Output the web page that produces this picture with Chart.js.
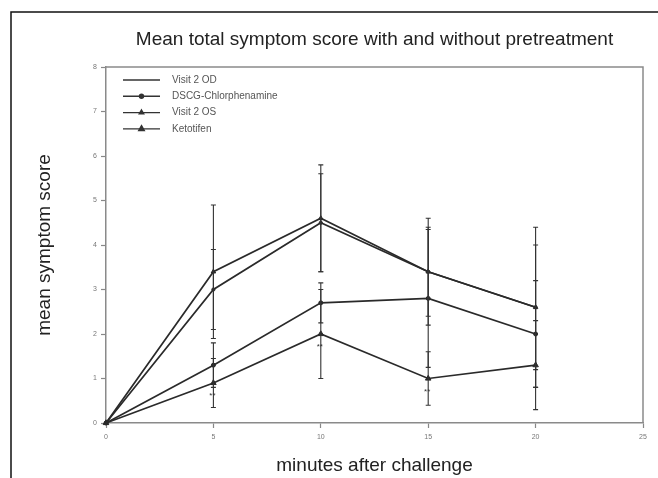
<!DOCTYPE html>
<html>
<head>
<meta charset="utf-8">
<script src="https://cdn.jsdelivr.net/npm/chart.js@4.4.0/dist/chart.umd.min.js"></script>
<style>
    body{margin:0;background:#fff;}
    canvas{display:block;}
</style>
</head>
<body>
<canvas id="symptomChart" width="658" height="478"></canvas>
<script>
'use strict';

// values
const minutes = [0, 5, 10, 15, 20];
const seriesNames = ['Visit 2 OD', 'DSCG-Chlorphenamine', 'Visit 2 OS', 'Ketotifen'];

const visit2OD   = [0, 3.0, 4.5, 3.4, 2.6];
const dscg       = [0, 1.3, 2.7, 2.8, 2.0];
const visit2OS   = [0, 3.4, 4.6, 3.4, 2.6];
const ketotifen  = [0, 0.9, 2.0, 1.0, 1.3];

// standard deviations (error bars)
const visit2OD_sd  = [0, 0.9, 1.1, 1.0, 1.4];
const dscg_sd      = [0, 0.5, 0.45, 1.55, 1.2];
const visit2OS_sd  = [0, 1.5, 1.2, 1.2, 1.8];
const ketotifen_sd = [0, 0.55, 1.0, 0.6, 1.0];

// significance marks under the Ketotifen curve
const sigMarks = ['', '**', '**', '**', ''];

const xTicks = [0, 5, 10, 15, 20, 25];
const yTicks = [0, 1, 2, 3, 4, 5, 6, 7, 8];

const FONT = "'Liberation Sans', Arial, sans-serif";

function toPoints(values){
    return minutes.map((m, i) => ({x: m, y: values[i]}));
}

function makeDataset(label, values, sd, style, radius){
    return {
        label: label,
        data: toPoints(values),
        sd: sd,
        borderColor: '#2a2a2a',
        backgroundColor: '#2a2a2a',
        borderWidth: 1.7,
        pointStyle: style,
        pointRadius: radius,
        pointBorderWidth: 1,
        tension: 0,
        fill: false,
        clip: false
    };
}

const datasets = [
    makeDataset(seriesNames[0], visit2OD, visit2OD_sd, 'circle', 1.6),
    makeDataset(seriesNames[1], dscg, dscg_sd, 'circle', 2),
    makeDataset(seriesNames[2], visit2OS, visit2OS_sd, 'triangle', 2.6),
    makeDataset(seriesNames[3], ketotifen, ketotifen_sd, 'triangle', 3.2)
];

// page frame + plot box
const framePlugin = {
    id: 'frame',
    beforeDraw(chart){
        const ctx = chart.ctx;
        ctx.save();
        ctx.strokeStyle = '#111';
        ctx.lineWidth = 1.5;
        ctx.beginPath();
        ctx.moveTo(11, 478);
        ctx.lineTo(11, 12);
        ctx.lineTo(658, 12);
        ctx.stroke();
        ctx.restore();
    },
    afterDraw(chart){
        const {ctx, chartArea} = chart;
        ctx.save();
        ctx.strokeStyle = '#8a8a8a';
        ctx.lineWidth = 1.5;
        ctx.beginPath();
        ctx.moveTo(chartArea.left, chartArea.top);
        ctx.lineTo(chartArea.right, chartArea.top);
        ctx.lineTo(chartArea.right, chartArea.bottom);
        ctx.stroke();
        ctx.restore();
    }
};

// vertical error bars, drawn through the scales
const errorBarPlugin = {
    id: 'errorBars',
    afterDatasetsDraw(chart){
        const ctx = chart.ctx;
        const xs = chart.scales.x, ys = chart.scales.y;
        ctx.save();
        ctx.strokeStyle = '#333';
        ctx.lineWidth = 1.1;
        chart.data.datasets.forEach(ds => {
            ds.data.forEach((p, i) => {
                const sd = ds.sd[i];
                if(!sd) return;
                const px = xs.getPixelForValue(p.x);
                const top = ys.getPixelForValue(p.y + sd);
                const bot = ys.getPixelForValue(Math.max(0, p.y - sd));
                ctx.beginPath();
                ctx.moveTo(px, top); ctx.lineTo(px, bot);
                ctx.moveTo(px - 2.5, top); ctx.lineTo(px + 2.5, top);
                ctx.moveTo(px - 2.5, bot); ctx.lineTo(px + 2.5, bot);
                ctx.stroke();
            });
        });
        // ** marks under the lowest curve
        ctx.fillStyle = '#333';
        ctx.font = '8px ' + FONT;
        ctx.textAlign = 'center';
        ctx.textBaseline = 'middle';
        sigMarks.forEach((m, i) => {
            if(!m) return;
            const px = xs.getPixelForValue(minutes[i]);
            const py = ys.getPixelForValue(ketotifen[i]);
            ctx.fillText(m, px - 1, py + 13);
        });
        ctx.restore();
    }
};

// legend inside the plot, top left
const insideLegendPlugin = {
    id: 'insideLegend',
    afterDraw(chart){
        const {ctx, chartArea} = chart;
        ctx.save();
        ctx.font = '10px ' + FONT;
        ctx.textBaseline = 'middle';
        chart.data.datasets.forEach((ds, i) => {
            const y = chartArea.top + 13 + i * 16.3;
            const x0 = chartArea.left + 17, x1 = chartArea.left + 54;
            ctx.strokeStyle = '#333';
            ctx.lineWidth = 1.4;
            ctx.beginPath();
            ctx.moveTo(x0, y); ctx.lineTo(x1, y);
            ctx.stroke();
            if(i > 0){
                Chart.helpers.drawPoint(ctx, {
                    pointStyle: ds.pointStyle,
                    radius: ds.pointRadius,
                    borderWidth: 1
                }, (x0 + x1) / 2, y);
                ctx.fillStyle = '#333';
                ctx.fill();
            }
            ctx.fillStyle = '#555';
            ctx.fillText(ds.label, chartArea.left + 66, y);
        });
        ctx.restore();
    }
};

const ctx = document.getElementById('symptomChart').getContext('2d');
window.myChart = new Chart(ctx, {
    type: 'line',
    data: { datasets: datasets },
    options: {
        responsive: false,
        animation: false,
        layout: { padding: { left: 0, right: 15, top: 0, bottom: 0 } },
        plugins: {
            legend: { display: false },
            tooltip: { enabled: false },
            title: {
                display: true,
                text: 'Mean total symptom score with and without pretreatment',
                fullSize: false,
                color: '#222',
                font: { family: FONT, size: 19, weight: 'normal' },
                padding: { top: 28.6, bottom: 15.6 }
            }
        },
        scales: {
            x: {
                type: 'linear',
                min: 0, max: 25,
                afterFit(s){ s.height = 55; },
                afterBuildTicks(s){ s.ticks = xTicks.map(v => ({value: v})); },
                ticks: { color: '#777', font: { family: FONT, size: 7 }, padding: 5 },
                grid: { drawOnChartArea: false, drawTicks: true, tickLength: 5, tickColor: '#888', tickWidth: 1.2 },
                border: { color: '#8a8a8a', width: 1.5 },
                title: {
                    display: true,
                    text: 'minutes after challenge',
                    color: '#222',
                    font: { family: FONT, size: 19 },
                    padding: { top: 0, bottom: 0.6 }
                }
            },
            y: {
                min: 0, max: 8,
                afterFit(s){ s.width = 106; },
                afterBuildTicks(s){ s.ticks = yTicks.map(v => ({value: v})); },
                ticks: { color: '#777', font: { family: FONT, size: 7 }, padding: 4 },
                grid: { drawOnChartArea: false, drawTicks: true, tickLength: 5, tickColor: '#888', tickWidth: 1.2 },
                border: { color: '#8a8a8a', width: 1.5 },
                title: {
                    display: true,
                    text: 'mean symptom score',
                    color: '#222',
                    font: { family: FONT, size: 19 },
                    padding: { top: 33.6, bottom: 0 }
                }
            }
        }
    },
    plugins: [framePlugin, errorBarPlugin, insideLegendPlugin]
});
</script>
</body>
</html>
